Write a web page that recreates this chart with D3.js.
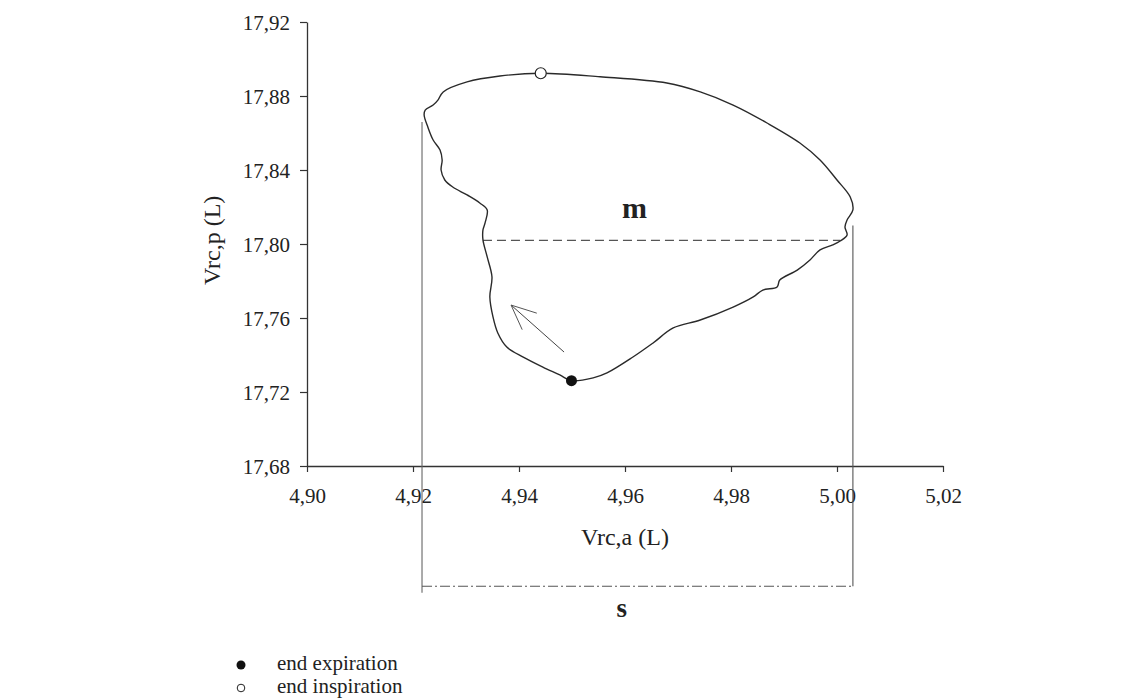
<!DOCTYPE html>
<html><head><meta charset="utf-8">
<script src="https://cdn.jsdelivr.net/npm/d3@7"></script>
<style>body{margin:0;background:#fff}svg{display:block}text{font-family:"Liberation Serif","Times New Roman",serif;fill:#222}</style>
</head><body><svg id="c" width="1145" height="698"></svg>
<script>
// ---- data ----
const xTicks = [4.90, 4.92, 4.94, 4.96, 4.98, 5.00, 5.02];
const yTicks = [17.68, 17.72, 17.76, 17.80, 17.84, 17.88, 17.92];
// loop Vrc,a (x) vs Vrc,p (y), starting at end expiration
const loopX = [4.9499,4.9477,4.9445,4.9408,4.9377,4.9360,4.9351,4.9345,4.9349,4.9340,4.9332,4.9332,4.9336,4.9340,4.9326,4.9302,4.9275,4.9260,4.9253,4.9255,4.9251,4.9238,4.9228,4.9221,4.9223,4.9238,4.9247,4.9257,4.9302,4.9364,4.9441,4.9553,4.9679,4.9742,4.9804,4.9868,4.9930,4.9968,5.0000,5.0025,5.0030,5.0019,5.0015,5.0019,5.0006,4.9992,4.9968,4.9949,4.9925,4.9892,4.9887,4.9860,4.9842,4.9804,4.9742,4.9691,4.9653,4.9615,4.9566,4.9540];
const loopY = [17.7261,17.7292,17.7335,17.7389,17.7443,17.7519,17.7605,17.7714,17.7822,17.7930,17.8022,17.8076,17.8114,17.8184,17.8222,17.8265,17.8308,17.8346,17.8400,17.8454,17.8508,17.8562,17.8632,17.8697,17.8724,17.8751,17.8778,17.8822,17.8876,17.8908,17.8923,17.8904,17.8870,17.8822,17.8751,17.8654,17.8546,17.8454,17.8346,17.8254,17.8184,17.8130,17.8092,17.8049,17.8016,17.7995,17.7968,17.7914,17.7859,17.7805,17.7768,17.7751,17.7714,17.7659,17.7589,17.7546,17.7465,17.7389,17.7303,17.7276];
const endExpiration = [4.9499, 17.7261];
const endInspiration = [4.9441, 17.8923];
const arrowFrom = [4.9485, 17.7416];
const arrowTo = [4.9385, 17.7670];
const mLine = {x0: 4.9332, x1: 5.0006, y: 17.802};
const sLeft = {x: 4.9217, yTop: 17.866, yBottom: 17.6115};
const sRight = {x: 5.0030, yTop: 17.810, yBottom: 17.6150};
const legendItems = [{label: "end expiration", filled: true}, {label: "end inspiration", filled: false}];

const svg = d3.select("#c");
const x = d3.scaleLinear().domain([4.90, 5.02]).range([307, 943]);
const y = d3.scaleLinear().domain([17.68, 17.92]).range([466, 22]);
const fmt2 = d => d3.format(".2f")(d).replace(".", ",");
const axisCol = "#333";

// axes
const gx = svg.append("g").attr("transform", `translate(0,${y(17.68)})`)
  .call(d3.axisBottom(x).tickValues(xTicks).tickFormat(fmt2).tickSize(6).tickSizeOuter(0));
const gy = svg.append("g").attr("transform", `translate(${x(4.90)},0)`)
  .call(d3.axisLeft(y).tickValues(yTicks).tickFormat(fmt2).tickSize(7).tickSizeOuter(0));
[gx, gy].forEach(g => {
  g.select(".domain").attr("stroke", axisCol).attr("stroke-width", 1.3);
  g.selectAll(".tick line").attr("stroke", axisCol).attr("stroke-width", 1.2);
  g.selectAll(".tick text").attr("font-size", 21).attr("fill", "#333")
    .style("font-family", '"Liberation Serif", serif');
});
gx.selectAll(".tick text").attr("y", 37).attr("dy", 0);
gy.selectAll(".tick text").attr("x", -17).attr("dy", "0.35em");

// axis titles
svg.append("text").attr("x", x(4.96)).attr("y", 545).attr("text-anchor", "middle")
  .attr("font-size", 24).attr("fill", "#333").text("Vrc,a (L)");
svg.append("text").attr("transform", `translate(220,${y(17.802)}) rotate(-90)`)
  .attr("text-anchor", "middle").attr("font-size", 24).attr("fill", "#333").text("Vrc,p (L)");

// s bracket
svg.append("line").attr("x1", x(sLeft.x)).attr("x2", x(sLeft.x))
  .attr("y1", y(sLeft.yTop)).attr("y2", y(sLeft.yBottom)).attr("stroke", "#666").attr("stroke-width", 1.1);
svg.append("line").attr("x1", x(sRight.x)).attr("x2", x(sRight.x))
  .attr("y1", y(sRight.yTop)).attr("y2", y(sRight.yBottom)).attr("stroke", "#555").attr("stroke-width", 1.1);
svg.append("line").attr("x1", x(sLeft.x)).attr("x2", x(sRight.x))
  .attr("y1", y(sRight.yBottom)).attr("y2", y(sRight.yBottom))
  .attr("stroke", "#555").attr("stroke-width", 1.1).attr("stroke-dasharray", "10,3,2,3");
svg.append("text").attr("x", x(4.9594)).attr("y", 617).attr("text-anchor", "middle")
  .attr("font-size", 27).attr("font-weight", "bold").attr("fill", "#111").text("s");

// m dashed line
svg.append("line").attr("x1", x(mLine.x0)).attr("x2", x(mLine.x1))
  .attr("y1", y(mLine.y)).attr("y2", y(mLine.y))
  .attr("stroke", "#555").attr("stroke-width", 1.2).attr("stroke-dasharray", "9,5");
svg.append("text").attr("x", x(4.9618)).attr("y", 218).attr("text-anchor", "middle")
  .attr("font-size", 30).attr("font-weight", "bold").attr("fill", "#111").text("m");

// loop
const pts = loopX.map((v, i) => [v, loopY[i]]);
svg.append("path").datum(pts)
  .attr("d", d3.line().x(d => x(d[0])).y(d => y(d[1])).curve(d3.curveCatmullRomClosed.alpha(0.5)))
  .attr("fill", "none").attr("stroke", "#2a2a2a").attr("stroke-width", 1.4);

// arrow
const ax0 = x(arrowFrom[0]), ay0 = y(arrowFrom[1]), ax1 = x(arrowTo[0]), ay1 = y(arrowTo[1]);
svg.append("line").attr("x1", ax0).attr("y1", ay0).attr("x2", ax1).attr("y2", ay1)
  .attr("stroke", "#444").attr("stroke-width", 1);
const ang = Math.atan2(ay0 - ay1, ax0 - ax1);
[-0.42, 0.42].forEach(da => {
  svg.append("line").attr("x1", ax1).attr("y1", ay1)
    .attr("x2", ax1 + 27 * Math.cos(ang + da)).attr("y2", ay1 + 27 * Math.sin(ang + da))
    .attr("stroke", "#555").attr("stroke-width", 1);
});

// markers
svg.append("circle").attr("cx", x(endExpiration[0])).attr("cy", y(endExpiration[1])).attr("r", 5.5)
  .attr("fill", "#111");
svg.append("circle").attr("cx", x(endInspiration[0])).attr("cy", y(endInspiration[1])).attr("r", 5.5)
  .attr("fill", "#fff").attr("stroke", "#222").attr("stroke-width", 1.2);

// legend
const lg = svg.append("g");
legendItems.forEach((it, i) => {
  const cy = 665 + i * 23;
  lg.append("circle").attr("cx", 241).attr("cy", cy).attr("r", it.filled ? 4.5 : 3.8)
    .attr("fill", it.filled ? "#111" : "#fff").attr("stroke", "#222").attr("stroke-width", it.filled ? 0 : 1);
  lg.append("text").attr("x", 277).attr("y", cy + 5).attr("font-size", 21).attr("fill", "#333").text(it.label);
});
</script></body></html>
